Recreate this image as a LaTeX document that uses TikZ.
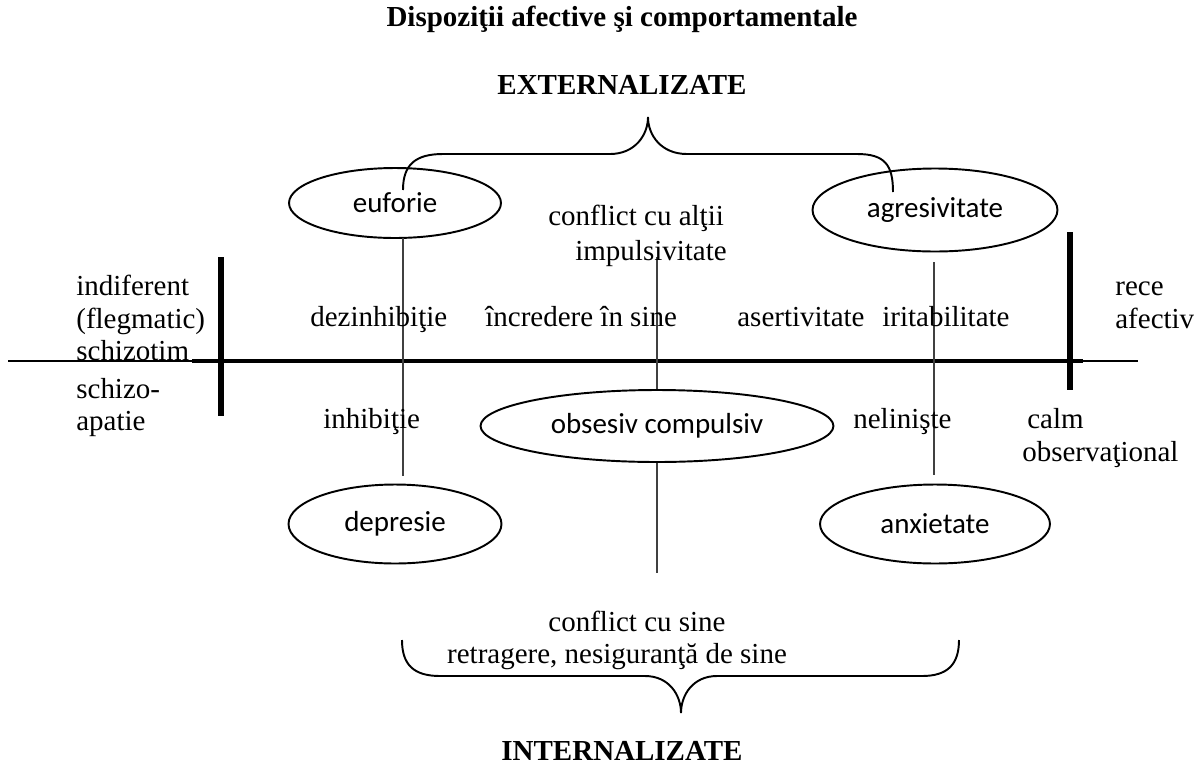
\documentclass[tikz,border=0pt]{standalone}
\usepackage{fontspec}
\setmainfont{Liberation Serif}
\newfontfamily\calibri{Carlito}
\usetikzlibrary{shapes.geometric}

\begin{document}
\begin{tikzpicture}[x=0.02cm,y=-0.02cm,
  txt/.style={inner sep=0pt,anchor=base,font=\fontsize{16.5}{19}\selectfont},
  txtl/.style={txt,anchor=base west},
  hdr/.style={txt,font=\fontsize{16.5}{19}\selectfont\bfseries},
  oval/.style={draw,ellipse,line width=1.1pt,inner sep=0pt,font=\calibri\fontsize{16.5}{19}\selectfont},
  guide/.style={line width=0.6pt,black!75},
  thickbar/.style={line width=3.4pt},
  curly/.style={line width=1.1pt}]
  \useasboundingbox (0,0) rectangle (1201,765);

  \node[hdr] (title) at (622,26) {Dispoziţii afective şi comportamentale};
  \node[hdr] (ext) at (622,94) {EXTERNALIZATE};
  \node[hdr] (intl) at (622,760) {INTERNALIZATE};

  % ellipses
  \node[oval,minimum width=4.24cm,minimum height=1.40cm] (euforie) at (395,203) {euforie};
  \node[oval,minimum width=4.90cm,minimum height=1.66cm] (agres) at (935,210) {agresivitate};
  \node[oval,minimum width=7.06cm,minimum height=1.44cm] (obsesiv) at (657,426) {obsesiv compulsiv};
  \node[oval,minimum width=4.26cm,minimum height=1.58cm] (depresie) at (395,524) {depresie};
  \node[oval,minimum width=4.60cm,minimum height=1.58cm] (anxiet) at (935,524) {anxietate};

  % top brace
  \coordinate (extL) at (403,190);
  \coordinate (extR) at (893,192);
  \coordinate (extTip) at (648,117);
  \draw[curly] (extL) .. controls (403,165) and (415,154) .. (443,154) -- (610,154)
    .. controls (635,154) and (648,135) .. (extTip)
    .. controls (648,135) and (661,154) .. (687,154) -- (857,154)
    .. controls (885,154) and (893,165) .. (extR);

  % bottom brace
  \coordinate (intL) at (402,640);
  \coordinate (intR) at (959,640);
  \coordinate (intTip) at (681,713);
  \draw[curly] (intL) .. controls (402,665) and (414,676) .. (440,676) -- (645,676)
    .. controls (669,676) and (681,695) .. (intTip)
    .. controls (681,695) and (693,676) .. (717,676) -- (922,676)
    .. controls (947,676) and (959,665) .. (intR);

  % axes
  \coordinate (axL) at (8,361);
  \coordinate (axR) at (1138,361);
  \coordinate (axTL) at (192,361);
  \coordinate (axTR) at (1083,361);
  \draw[line width=1pt] (axL) -- (axR);
  \draw[line width=2.7pt] (axTL) -- (axTR);
  \coordinate (barLt) at (221,257);
  \coordinate (barLb) at (221,416);
  \coordinate (barRt) at (1070,232);
  \coordinate (barRb) at (1070,390);
  \draw[thickbar] (barLt) -- (barLb);
  \draw[thickbar] (barRt) -- (barRb);

  % thin verticals
  \coordinate (v1t) at (403,238);
  \coordinate (v1b) at (403,476);
  \coordinate (v2t) at (657,257);
  \coordinate (v2b) at (657,573);
  \coordinate (v3t) at (934,262);
  \coordinate (v3b) at (934,475);
  \draw[guide] (v1t) -- (v1b);
  \draw[guide] (v2t) -- (obsesiv.north);
  \draw[guide] (obsesiv.south) -- (v2b);
  \draw[guide] (v3t) -- (v3b);

  % left and right labels
  \node[txtl] (ind) at (76,295) {indiferent};
  \node[txtl] (fleg) at (76,328) {(flegmatic)};
  \node[txtl] (schz) at (76,360) {schizotim};
  \node[txtl] (schz2) at (76,398) {schizo-};
  \node[txtl] (apat) at (76,430) {apatie};
  \node[txtl] (rece) at (1115,295) {rece};
  \node[txtl] (afec) at (1115,328) {afectiv};

  % middle labels
  \node[txtl] (confa) at (548,225) {conflict cu alţii};
  \node[txtl] (impul) at (575,260) {impulsivitate};
  \node[txtl] (dezin) at (310,326) {dezinhibiţie};
  \node[txtl] (incr) at (485,326) {încredere în sine};
  \node[txtl] (asert) at (737,326) {asertivitate};
  \node[txtl] (irit) at (882,326) {iritabilitate};
  \node[txtl] (inhib) at (323,428) {inhibiţie};
  \node[txtl] (nelin) at (853,428) {nelinişte};
  \node[txtl] (calm) at (1027,428) {calm};
  \node[txtl] (obsv) at (1022,461) {observaţional};
  \node[txt] (confs) at (637,631) {conflict cu sine};
  \node[txt] (retr) at (617,663) {retragere, nesiguranţă de sine};
\end{tikzpicture}
\end{document}
